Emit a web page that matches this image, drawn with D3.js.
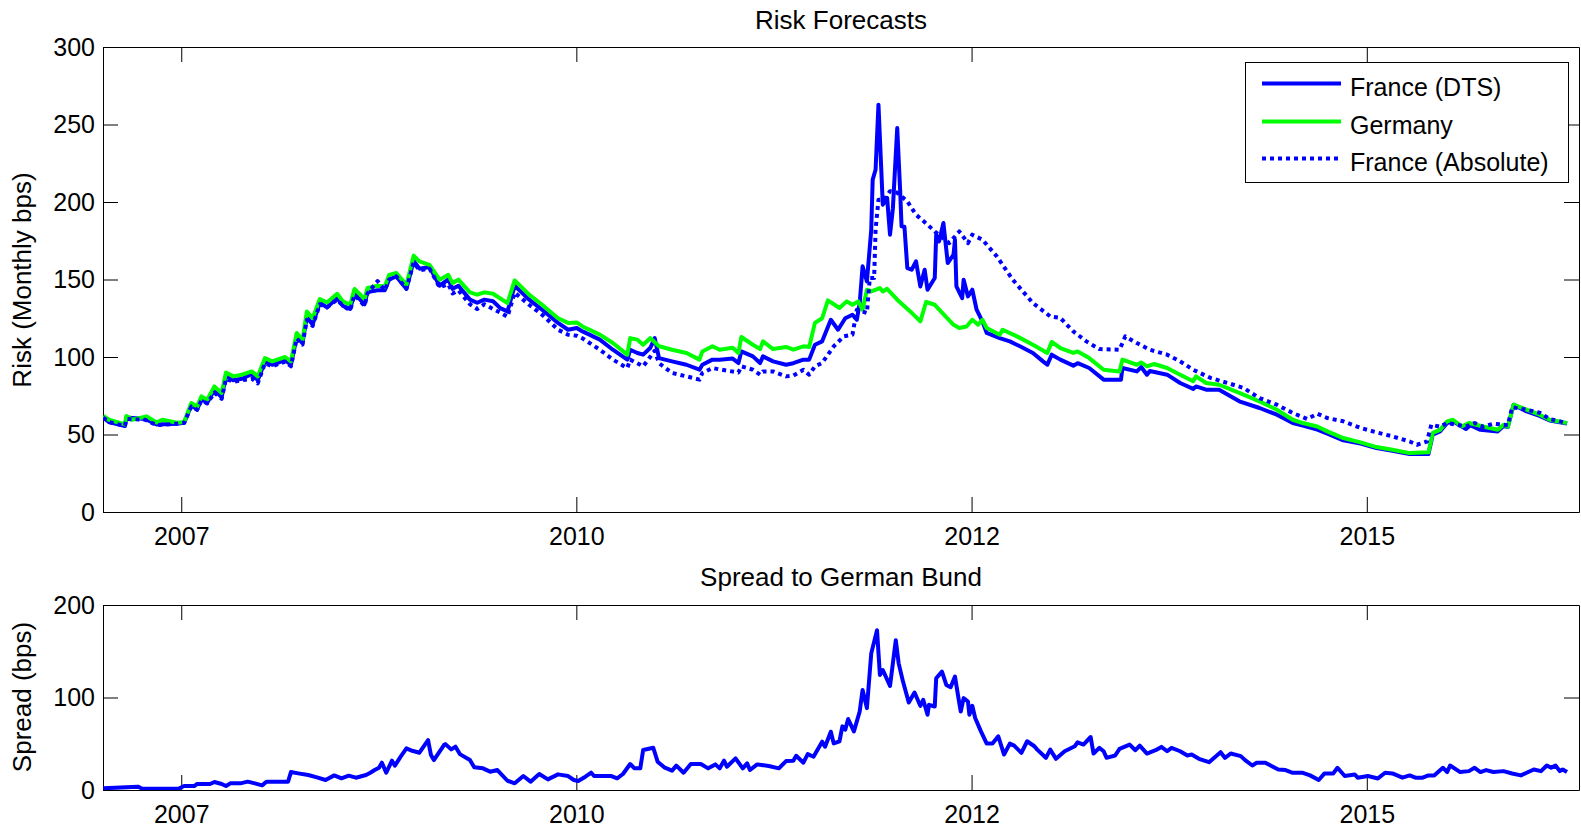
<!DOCTYPE html>
<html>
<head>
<meta charset="utf-8">
<script src="https://cdn.jsdelivr.net/npm/d3@7"></script>
<style>
  body { margin: 0; background: #fff; }
  svg { display: block; font-family: "Liberation Sans", Arial, sans-serif; }
</style>
</head>
<body>
<svg width="1581" height="829"></svg>
<script>
// x values are decimal years, y values in bps
var germany = [
  [2006.89,62],[2006.93,59.5],[2007.04,56.5],[2007.05,62],[2007.09,59.5],[2007.19,61.7],[2007.26,57.8],
  [2007.30,59.5],[2007.40,57.6],[2007.45,58],[2007.50,70.3],[2007.54,68],[2007.57,74.6],[2007.61,72.5],
  [2007.66,81],[2007.71,76.8],[2007.74,90],[2007.79,87.5],[2007.85,88.6],[2007.92,90.7],[2007.96,87.5],
  [2008.01,99.3],[2008.06,97.2],[2008.15,100],[2008.19,97.2],[2008.23,115.5],[2008.27,111],[2008.30,129.4],
  [2008.34,125],[2008.39,137.4],[2008.44,135.2],[2008.51,140.8],[2008.55,135.9],[2008.60,133.7],[2008.63,143.9],
  [2008.70,137.4],[2008.72,144.5],[2008.79,146],[2008.84,145.5],[2008.87,153],[2008.92,154.2],[2008.99,146.6],
  [2009.04,165.4],[2009.08,161.7],[2009.15,159.5],[2009.22,149.9],[2009.28,153],[2009.31,147.7],[2009.35,149.9],
  [2009.43,141.7],[2009.48,140.2],[2009.53,141.7],[2009.59,140.8],[2009.69,134.8],[2009.74,149.4],[2009.84,140.2],
  [2009.93,133.7],[2010.04,125],[2010.11,122],[2010.17,122.3],[2010.21,119.7],[2010.33,114.4],[2010.42,109],
  [2010.52,101.5],[2010.54,112.2],[2010.59,111.2],[2010.63,107.9],[2010.68,112.2],[2010.74,106.9],[2010.83,104.7],
  [2010.93,102.6],[2011.02,98.3],[2011.04,103.6],[2011.11,106.9],[2011.16,104.7],[2011.25,106],[2011.29,102.6],
  [2011.31,112.9],[2011.39,107.9],[2011.44,105.1],[2011.46,110.1],[2011.53,105.1],[2011.62,106.5],[2011.67,104.7],
  [2011.74,106.9],[2011.78,106.5],[2011.82,122],[2011.87,125],[2011.91,136.5],[2011.99,131.6],[2012.04,135.9],
  [2012.08,133.7],[2012.12,135.9],[2012.15,130.5],[2012.18,143.4],[2012.21,142.3],[2012.27,144.5],[2012.29,142.3],
  [2012.32,144],[2012.39,137],[2012.48,129.4],[2012.55,123],[2012.59,135.5],[2012.65,133.7],[2012.78,120.8],
  [2012.82,118.7],[2012.87,119.7],[2012.91,124],[2012.95,120.8],[2012.98,124],[2013.01,118.7],[2013.10,114.4],
  [2013.12,117.6],[2013.22,113.3],[2013.33,107.9],[2013.43,102.6],[2013.46,109.7],[2013.52,105.8],[2013.61,102.6],
  [2013.64,103.6],[2013.72,99.3],[2013.82,91.8],[2013.93,90.7],[2013.95,98.3],[2014.05,95],[2014.08,96.5],
  [2014.12,94],[2014.17,95.5],[2014.26,92.9],[2014.35,88.6],[2014.44,84.3],[2014.46,87.5],[2014.53,83.2],
  [2014.62,82.1],[2014.76,76.8],[2014.90,71.4],[2015.02,66],[2015.13,59.5],[2015.20,57.4],[2015.30,55.2],
  [2015.37,52],[2015.48,47.7],[2015.60,44.9],[2015.71,41.9],[2015.82,40.2],[2015.94,38],[2016.07,38.5],
  [2016.10,51],[2016.15,53],[2016.20,58.5],[2016.24,59.5],[2016.30,55.2],[2016.35,57.4],[2016.45,55.2],
  [2016.55,53.1],[2016.59,56.3],[2016.62,55],[2016.66,69.2],[2016.75,66],[2016.84,62.8],[2016.91,59.5],[2017.03,57.4]
];

var franceDts = [
  [2006.89,61],[2006.93,58],[2007.04,55.5],[2007.05,61],[2007.18,60],[2007.26,56.5],[2007.40,57],[2007.45,57.5],
  [2007.50,69],[2007.54,66],[2007.57,73],[2007.61,70.5],[2007.66,79],[2007.71,74],[2007.74,88],[2007.79,85],
  [2007.85,86],[2007.92,89],[2007.96,85],[2008.01,97],[2008.06,95],[2008.15,98],[2008.19,95],[2008.23,113],
  [2008.27,109],[2008.30,126],[2008.34,121],[2008.39,135],[2008.44,132],[2008.51,138],[2008.55,133],[2008.60,131],
  [2008.63,141],[2008.70,134],[2008.72,142],[2008.79,143],[2008.84,143],[2008.87,150],[2008.92,152],[2008.99,144],
  [2009.04,162],[2009.08,157],[2009.15,158],[2009.22,146],[2009.28,150],[2009.31,144],[2009.35,146],[2009.43,137],
  [2009.48,135],[2009.53,137],[2009.59,136],[2009.64,131.5],[2009.69,129.4],[2009.74,146],[2009.84,137],[2009.93,130.5],
  [2010.04,122],[2010.11,117.6],[2010.17,118.7],[2010.21,116.5],[2010.33,111.2],[2010.42,104.7],[2010.52,98.3],
  [2010.54,104.7],[2010.59,102.6],[2010.63,101.5],[2010.68,106],[2010.71,112.2],[2010.74,99.3],[2010.83,97.2],
  [2010.93,95],[2011.02,91.8],[2011.04,95],[2011.11,98.3],[2011.16,98.3],[2011.25,99],[2011.29,96.1],[2011.31,103.6],
  [2011.39,100.4],[2011.44,96.1],[2011.46,100.4],[2011.53,97.2],[2011.62,95],[2011.67,96],[2011.74,98.3],
  [2011.78,98.3],[2011.82,107.9],[2011.87,110.1],[2011.93,124],[2011.98,117.6],[2012.03,125],[2012.08,127.3],
  [2012.11,124],[2012.13,134.8],[2012.15,158.5],[2012.18,148.8],[2012.21,182.1],[2012.22,214.4],[2012.24,220.8],
  [2012.26,262.8],[2012.29,198.3],[2012.32,202.6],[2012.34,178.9],[2012.36,196],[2012.39,247.7],[2012.41,208],
  [2012.42,184.3],[2012.44,184],[2012.46,157.4],[2012.49,156.3],[2012.52,161.7],[2012.55,145.5],[2012.58,156.3],
  [2012.60,143.4],[2012.65,151],[2012.66,178.9],[2012.68,174.6],[2012.71,186.5],[2012.74,160.6],[2012.78,166],
  [2012.79,175.7],[2012.80,145.5],[2012.84,138],[2012.85,149.9],[2012.88,139.1],[2012.91,143.4],[2012.94,130.5],
  [2012.98,123],[2013.01,115.5],[2013.10,112.2],[2013.17,110.1],[2013.24,106.9],[2013.33,102.6],[2013.40,97.2],
  [2013.43,95],[2013.46,101.5],[2013.52,98.3],[2013.61,94.4],[2013.64,96],[2013.72,92.9],[2013.82,85.4],
  [2013.94,85.4],[2013.95,92.9],[2014.05,90.7],[2014.08,93.5],[2014.12,88.6],[2014.14,91],[2014.26,88.6],
  [2014.35,83.2],[2014.44,79.4],[2014.46,81],[2014.53,78.9],[2014.62,78.9],[2014.76,71.4],[2014.90,67.1],
  [2015.02,62.8],[2015.13,57.4],[2015.20,55.7],[2015.30,53.1],[2015.37,50.5],[2015.48,46.2],[2015.60,44.1],
  [2015.71,41.3],[2015.82,39.5],[2015.94,37.4],[2016.07,37.4],[2016.10,49.9],[2016.15,52],[2016.20,57.4],
  [2016.24,58.5],[2016.33,53.5],[2016.36,56],[2016.43,53],[2016.55,52],[2016.59,55.5],[2016.62,54.8],
  [2016.66,69.2],[2016.75,64.9],[2016.84,62],[2016.91,59],[2017.03,57]
];

var franceAbs = [
  [2006.89,61],[2006.93,58],[2007.04,55.5],[2007.05,60],[2007.18,59.5],[2007.26,56],[2007.40,57],[2007.45,57.5],
  [2007.50,68],[2007.54,66],[2007.57,72],[2007.61,70],[2007.66,77],[2007.71,73],[2007.74,86],[2007.79,84],
  [2007.85,85],[2007.92,86],[2007.96,83],[2008.01,96],[2008.06,94],[2008.15,97],[2008.19,94],[2008.23,112],
  [2008.27,108],[2008.30,124],[2008.34,120],[2008.39,134],[2008.44,132],[2008.51,137],[2008.55,133],[2008.60,130],
  [2008.63,140],[2008.70,133],[2008.72,141],[2008.79,149],[2008.84,143],[2008.87,150],[2008.92,152],[2008.99,144],
  [2009.04,161],[2009.08,156],[2009.15,157],[2009.22,145],[2009.28,147],[2009.31,141],[2009.35,143],[2009.43,134],
  [2009.48,131],[2009.53,134],[2009.59,131],[2009.64,128.6],[2009.69,126],[2009.74,141.5],[2009.84,133.7],
  [2009.93,127.3],[2010.04,117.6],[2010.11,114.4],[2010.17,113.7],[2010.21,112],[2010.33,104.7],[2010.42,98.3],
  [2010.52,92.9],[2010.54,98.3],[2010.63,94],[2010.71,104],[2010.74,96],[2010.83,89.7],[2010.93,87.5],[2011.02,85.4],
  [2011.04,89.7],[2011.11,92.9],[2011.16,92],[2011.29,90],[2011.31,94],[2011.39,91.8],[2011.44,88.6],[2011.46,90.7],
  [2011.53,90.7],[2011.62,87.5],[2011.67,88],[2011.74,91.8],[2011.78,88.6],[2011.82,94],[2011.87,96.1],
  [2011.95,106.9],[2012.02,113.3],[2012.08,114.4],[2012.11,130.5],[2012.18,128.4],[2012.20,151],[2012.23,151],
  [2012.24,182.1],[2012.26,201.5],[2012.30,201.5],[2012.34,207],[2012.39,206],[2012.46,200.4],[2012.52,191.8],
  [2012.60,185.4],[2012.65,181],[2012.75,173.5],[2012.82,181],[2012.88,173.5],[2012.91,178.9],[2012.98,175.7],
  [2013.08,164.9],[2013.19,149.9],[2013.33,134.8],[2013.45,126.2],[2013.52,125.2],[2013.61,116.5],[2013.70,110.1],
  [2013.79,105.1],[2013.93,104.7],[2013.97,113.3],[2014.05,109],[2014.14,104.7],[2014.26,101.5],[2014.35,97.2],
  [2014.44,91.8],[2014.56,86.5],[2014.68,83.2],[2014.79,80],[2014.90,73.5],[2015.02,69.2],[2015.13,63.9],
  [2015.23,60],[2015.30,63.4],[2015.37,60.6],[2015.48,58.5],[2015.60,54.2],[2015.71,51.4],[2015.82,48.8],
  [2015.94,45.5],[2015.99,43.4],[2016.06,45.5],[2016.09,56.3],[2016.15,55],[2016.20,57.4],[2016.33,55.2],
  [2016.39,57.4],[2016.45,55],[2016.52,57],[2016.62,56],[2016.65,67.6],[2016.75,66],[2016.84,64],[2016.91,60],
  [2017.03,57.4]
];

var spread = [
  [2006.89,1.8],[2007.13,3.6],[2007.16,1.4],[2007.41,1.4],[2007.45,4.3],[2007.52,4.3],[2007.54,6.5],[2007.63,6.5],
  [2007.66,8.6],[2007.71,6.5],[2007.74,4.3],[2007.77,7.2],[2007.84,7.2],[2007.89,9],[2007.94,7.2],[2007.99,5],
  [2008.02,9],[2008.17,9],[2008.19,19.4],[2008.24,18],[2008.31,16.2],[2008.37,13.7],[2008.43,10.8],[2008.49,15.8],
  [2008.54,12.6],[2008.59,15.5],[2008.64,13.3],[2008.71,16.2],[2008.74,18.7],[2008.77,21.6],[2008.80,24.1],
  [2008.82,29.5],[2008.85,18.7],[2008.89,31.7],[2008.91,26.3],[2008.95,36],[2008.99,45],[2009.03,42.4],
  [2009.08,40.3],[2009.14,54],[2009.16,37.8],[2009.18,32.4],[2009.25,48.6],[2009.26,49.6],[2009.30,43.9],
  [2009.33,46.8],[2009.36,38.8],[2009.43,32.4],[2009.46,24.5],[2009.52,23.4],[2009.57,19.8],[2009.62,21.6],
  [2009.69,10],[2009.74,7.2],[2009.80,15.1],[2009.85,9],[2009.91,17.3],[2009.97,11.5],[2010.04,16.9],[2010.11,15.1],
  [2010.15,10.8],[2010.18,9.7],[2010.23,14.4],[2010.27,18.7],[2010.29,15.1],[2010.41,15.1],[2010.45,12.6],
  [2010.49,17.3],[2010.54,28.1],[2010.57,23.4],[2010.61,23.4],[2010.63,43.2],[2010.70,45.7],[2010.73,30.6],
  [2010.78,24.1],[2010.83,20.9],[2010.86,26.3],[2010.91,18.7],[2010.96,28.1],[2011.03,28.1],[2011.08,23.4],
  [2011.13,27.7],[2011.16,23.4],[2011.19,31.7],[2011.21,25.2],[2011.27,34.2],[2011.32,23.4],[2011.35,28.8],
  [2011.37,21.6],[2011.42,27.7],[2011.50,25.9],[2011.57,23.4],[2011.62,31.3],[2011.67,31.7],[2011.69,37],
  [2011.74,29.5],[2011.77,38.8],[2011.81,36],[2011.87,52.2],[2011.89,46.8],[2011.93,63],[2011.95,50.4],
  [2011.99,52.7],[2012.01,68.8],[2012.03,65.2],[2012.05,76.7],[2012.09,63.4],[2012.13,84.9],[2012.15,108.2],
  [2012.18,88.5],[2012.21,147.7],[2012.25,172.7],[2012.27,124.4],[2012.29,129.7],[2012.34,112.5],[2012.38,162],
  [2012.40,136.9],[2012.43,117.2],[2012.47,94.6],[2012.51,105.4],[2012.55,91],[2012.57,97.5],[2012.60,81.4],
  [2012.61,92.1],[2012.65,90.3],[2012.66,120.8],[2012.70,127.9],[2012.73,113.6],[2012.76,111.1],[2012.79,122.6],
  [2012.82,93.9],[2012.83,84.9],[2012.85,99.3],[2012.88,95.7],[2012.89,81.4],[2012.91,91],[2012.93,77.8],
  [2012.97,63.4],[2013.01,50.2],[2013.05,50.2],[2013.09,58.1],[2013.13,38.3],[2013.17,50.2],[2013.20,48],
  [2013.25,40.1],[2013.29,52.7],[2013.34,47.3],[2013.36,43.7],[2013.42,34.8],[2013.45,43.7],[2013.49,33.7],
  [2013.55,41.9],[2013.62,47.3],[2013.64,51.6],[2013.68,49.1],[2013.73,57.3],[2013.75,39.4],[2013.79,45.5],
  [2013.82,41.9],[2013.84,34.8],[2013.90,37.3],[2013.93,44.4],[2014.00,49.1],[2014.04,43],[2014.07,48],
  [2014.12,39.4],[2014.18,43],[2014.22,46.6],[2014.26,41.9],[2014.29,45.5],[2014.35,41.9],[2014.40,37.3],
  [2014.43,38.3],[2014.48,33.7],[2014.55,30.1],[2014.63,40.9],[2014.66,34.8],[2014.70,39.4],[2014.77,36.6],
  [2014.80,32.3],[2014.85,26.5],[2014.88,29.4],[2014.94,29.4],[2015.03,22.2],[2015.08,21.5],[2015.13,18.6],
  [2015.20,18.6],[2015.25,15.8],[2015.31,10.8],[2015.35,17.9],[2015.41,17.9],[2015.44,24],[2015.49,15.1],
  [2015.56,16.8],[2015.58,13.3],[2015.65,15.1],[2015.72,12.5],[2015.77,18.6],[2015.82,17.9],[2015.89,13.3],
  [2015.94,15.8],[2015.98,13.3],[2016.03,13.3],[2016.07,15.8],[2016.11,15.8],[2016.17,24],[2016.20,19.4],
  [2016.22,26.5],[2016.29,19.4],[2016.35,20.4],[2016.39,24],[2016.43,19.4],[2016.47,21.5],[2016.52,19.4],
  [2016.59,20.4],[2016.65,17.9],[2016.71,15.8],[2016.75,18.6],[2016.80,22.2],[2016.85,20.4],[2016.89,26.5],
  [2016.92,24],[2016.95,26.5],[2016.98,20.4],[2017.00,22.2],[2017.03,19.4]
];

// ticks sit every 1000 days (matlab datenum 733200, 734200, ...)
var yearTicks = [2007.430, 2010.167, 2012.905, 2015.643];
var yearLabels = ["2007", "2010", "2012", "2015"];
var riskTicks = [0, 50, 100, 150, 200, 250, 300];
var spreadTicks = [0, 100, 200];
var legendNames = ["France (DTS)", "Germany", "France (Absolute)"];

var svg = d3.select("svg");
var left = 103, right = 1579;
var tickLen = 15;
var lw = 4;

var x = d3.scaleLinear().domain([2006.888, 2017.113]).range([left, right]);
var yRisk = d3.scaleLinear().domain([0, 300]).range([512, 47]);
var ySpread = d3.scaleLinear().domain([0, 200]).range([790, 605]);

function drawBox(y, yTicks, id) {
  var top = y.range()[1], bottom = y.range()[0];
  svg.append("clipPath").attr("id", id)
    .append("rect").attr("x", left).attr("y", top).attr("width", right - left).attr("height", bottom - top);

  var ax = [
    svg.append("g").attr("transform", "translate(" + left + ",0)")
      .call(d3.axisLeft(y).tickValues(yTicks).tickSizeInner(-tickLen).tickSizeOuter(0).tickPadding(8)),
    svg.append("g").attr("transform", "translate(" + right + ",0)")
      .call(d3.axisRight(y).tickValues(yTicks).tickSizeInner(-tickLen).tickSizeOuter(0).tickFormat("")),
    svg.append("g").attr("transform", "translate(0," + top + ")")
      .call(d3.axisTop(x).tickValues(yearTicks).tickSizeInner(-tickLen).tickSizeOuter(0).tickFormat("")),
    svg.append("g").attr("transform", "translate(0," + bottom + ")")
      .call(d3.axisBottom(x).tickValues(yearTicks).tickSizeInner(-tickLen).tickSizeOuter(0).tickPadding(15)
        .tickFormat(function(d, i) { return yearLabels[i]; }))
  ];
  ax.forEach(function(g) {
    g.attr("font-family", null).attr("font-size", 25);
    g.selectAll("text").attr("fill", "#000");
    g.selectAll("path, line").attr("stroke", "#000");
  });
}

drawBox(yRisk, riskTicks, "clipTop");
drawBox(ySpread, spreadTicks, "clipBottom");

var riskLine = d3.line().x(function(d) { return x(d[0]); }).y(function(d) { return yRisk(d[1]); });
var spreadLine = d3.line().x(function(d) { return x(d[0]); }).y(function(d) { return ySpread(d[1]); });

var series = [
  { data: franceDts, color: "#0000ff", dash: null },
  { data: germany, color: "#00ff00", dash: null },
  { data: franceAbs, color: "#0000ff", dash: "4,4" }
];

svg.append("g").attr("clip-path", "url(#clipTop)")
  .selectAll("path").data(series).enter().append("path")
  .attr("d", function(s) { return riskLine(s.data); })
  .attr("fill", "none")
  .attr("stroke", function(s) { return s.color; })
  .attr("stroke-width", lw)
  .attr("stroke-linejoin", "round")
  .attr("stroke-dasharray", function(s) { return s.dash; });

svg.append("g").attr("clip-path", "url(#clipBottom)")
  .append("path")
  .attr("d", spreadLine(spread))
  .attr("fill", "none")
  .attr("stroke", "#0000ff")
  .attr("stroke-width", lw)
  .attr("stroke-linejoin", "round");

// titles and axis labels
var mid = (left + right) / 2;
svg.append("text").attr("x", mid).attr("y", 29).attr("text-anchor", "middle")
  .attr("font-size", 26).text("Risk Forecasts");
svg.append("text").attr("x", mid).attr("y", 586).attr("text-anchor", "middle")
  .attr("font-size", 26).text("Spread to German Bund");
svg.append("text").attr("transform", "translate(31,280) rotate(-90)").attr("text-anchor", "middle")
  .attr("font-size", 26).text("Risk (Monthly bps)");
svg.append("text").attr("transform", "translate(31,697) rotate(-90)").attr("text-anchor", "middle")
  .attr("font-size", 26).text("Spread (bps)");

// legend
var legend = svg.append("g");
legend.append("rect").attr("x", 1245.5).attr("y", 62.5).attr("width", 323).attr("height", 120)
  .attr("fill", "#fff").attr("stroke", "#000");
var rows = legend.selectAll("g.row").data(series).enter().append("g")
  .attr("transform", function(s, i) { return "translate(0," + [83.5, 121.5, 158.5][i] + ")"; });
rows.append("line").attr("x1", 1262).attr("x2", 1341)
  .attr("stroke", function(s) { return s.color; })
  .attr("stroke-width", lw)
  .attr("stroke-dasharray", function(s) { return s.dash; });
rows.append("text").attr("x", 1350).attr("y", 3.5).attr("dy", "0.35em")
  .attr("font-size", 25).text(function(s, i) { return legendNames[i]; });
</script>
</body>
</html>
